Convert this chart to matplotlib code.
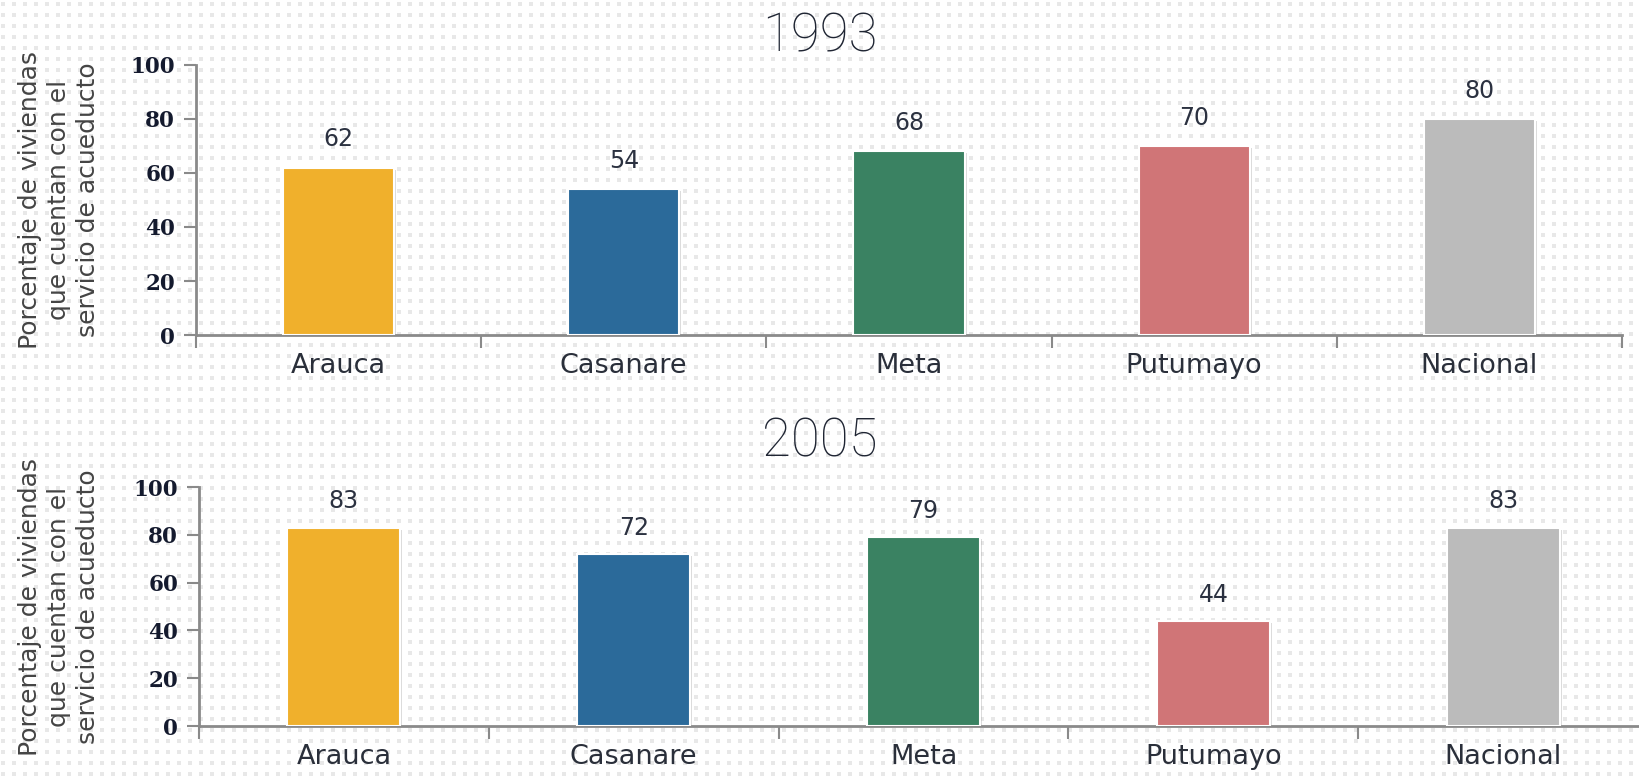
import numpy as np
from matplotlib import pyplot as plt
from matplotlib import patheffects as pe

# datos
categorias = ['Arauca', 'Casanare', 'Meta', 'Putumayo', 'Nacional']
valores_1993 = [62, 54, 68, 70, 80]
valores_2005 = [83, 72, 79, 44, 83]
colores = ['#F0B02C', '#2B6A9A', '#3A8262', '#D07577', '#BBBBBB']
ytick_vals = [0, 20, 40, 60, 80, 100]
ylabel = 'Porcentaje de viviendas\nque cuentan con el\nservicio de acueducto'

plt.rcParams['font.family'] = ['DejaVu Sans']

fig = plt.figure(figsize=(16.4, 7.8), dpi=100)
fig.patch.set_facecolor('white')

# fondo punteado
bg = fig.add_axes([0, 0, 1, 1], zorder=-10)
bg.set_xlim(0, 1640)
bg.set_ylim(780, 0)
bg.axis('off')
gx, gy = np.meshgrid(np.arange(3, 1640, 11), np.arange(4, 780, 11))
bg.scatter(gx.ravel(), gy.ravel(), s=7, marker='s', color='#e8e8e8', lw=0)

texto = '#1f2533'
eje = '#8a8a8a'


def dibujar(rect, valores, titulo, titulo_y, label_x):
    ax = fig.add_axes(rect)
    ax.patch.set_alpha(0)
    x = np.arange(len(categorias))
    bars = ax.bar(x, valores, width=0.39, color=colores, edgecolor='white',
                  linewidth=1.5, zorder=3)
    for b in bars:
        b.set_path_effects([pe.SimplePatchShadow(offset=(1.5, -1.5), shadow_rgbFace='#999999', alpha=0.35),
                            pe.Normal()])
    for xi, v in zip(x, valores):
        ax.text(xi, v + 6, str(v), ha='center', va='bottom', fontsize=17,
                color='#2b3140')
    ax.set_xlim(-0.5, len(categorias) - 0.5)
    ax.set_ylim(0, 100)
    ax.set_yticks(ytick_vals)
    ax.set_yticklabels([str(t) for t in ytick_vals], fontsize=15.5,
                       fontweight='bold', family='DejaVu Serif', color='#141a2e')
    ax.set_xticks(x)
    ax.set_xticklabels(categorias, fontsize=19.5, color='#2a2f3a')
    ax.tick_params(axis='x', which='major', length=0, pad=13)
    ax.set_xticks(np.arange(-0.5, len(categorias)), minor=True)
    ax.tick_params(axis='x', which='minor', length=9, width=1.5, color=eje)
    ax.tick_params(axis='y', length=9, width=1.5, color=eje, pad=6)
    for s in ['top', 'right']:
        ax.spines[s].set_visible(False)
    for s in ['left', 'bottom']:
        ax.spines[s].set_color(eje)
        ax.spines[s].set_linewidth(2)
    fig.text(0.5, titulo_y, titulo, ha='center', va='center', fontsize=38,
             family=['Roboto', 'DejaVu Sans'], fontweight='light', color=texto)
    fig.text(label_x, rect[1] + rect[3] / 2, ylabel, rotation=90, ha='center',
             va='center', fontsize=18, color='#444444', linespacing=1.25)
    return ax


dibujar([0.1195, 0.5705, 0.8695, 0.3462], valores_1993, '1993', 1 - 37 / 780, 0.036)
dibujar([0.1213, 0.0692, 0.8837, 0.3064], valores_2005, '2005', 1 - 442 / 780, 0.036)

plt.savefig('out.png', dpi=100, facecolor='white')
plt.close()
